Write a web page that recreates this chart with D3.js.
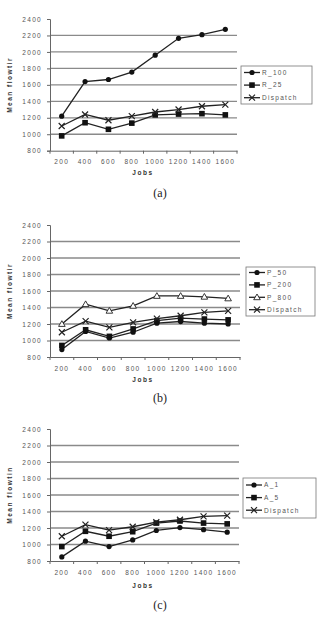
<!DOCTYPE html>
<html>
<head>
<meta charset="utf-8">
<script src="https://cdn.jsdelivr.net/npm/d3@7"></script>
<style>
  body { margin: 0; background: #fff; }
  text { font-family: "Liberation Sans", Arial, sans-serif; }
</style>
</head>
<body>
<div id="plot"></div>
<script>
// data
var jobs = [200, 400, 600, 800, 1000, 1200, 1400, 1600];
var yTicks = [800, 1000, 1200, 1400, 1600, 1800, 2000, 2200, 2400];

var r100 = [1220, 1640, 1665, 1755, 1960, 2165, 2210, 2275];
var r25 = [980, 1140, 1060, 1135, 1235, 1245, 1250, 1235];
var dispatchA = [1100, 1240, 1170, 1220, 1270, 1300, 1340, 1360];

var p50 = [890, 1110, 1030, 1100, 1210, 1230, 1210, 1200];
var p200 = [940, 1130, 1050, 1140, 1240, 1270, 1260, 1250];
var p800 = [1200, 1440, 1360, 1420, 1540, 1540, 1530, 1510];
var dispatchB = [1100, 1235, 1160, 1220, 1265, 1300, 1340, 1360];

var a1 = [850, 1040, 975, 1055, 1170, 1205, 1180, 1150];
var a5 = [975, 1160, 1100, 1155, 1260, 1285, 1260, 1250];
var dispatchC = [1100, 1240, 1175, 1215, 1270, 1300, 1340, 1350];

var svg = d3.select("div#plot")
  .append("svg")
    .attr("width", 322)
    .attr("height", 618);

function drawMarker(g, type, x, y) {
  if (type === "diamond") {
    g.append("circle").attr("cx", x).attr("cy", y).attr("r", 2.6).attr("fill", "#111");
  } else if (type === "square") {
    g.append("rect").attr("x", x - 2.8).attr("y", y - 2.8).attr("width", 5.6).attr("height", 5.6).attr("fill", "#111");
  } else if (type === "triangle") {
    g.append("path")
      .attr("d", "M" + x + "," + (y - 3.3) + "L" + (x + 3.3) + "," + (y + 2.4) + "L" + (x - 3.3) + "," + (y + 2.4) + "Z")
      .attr("fill", "#fff").attr("stroke", "#222").attr("stroke-width", 0.9);
  } else if (type === "cross") {
    g.append("path")
      .attr("d", "M" + (x - 3) + "," + (y - 3) + "L" + (x + 3) + "," + (y + 3) + "M" + (x + 3) + "," + (y - 3) + "L" + (x - 3) + "," + (y + 3))
      .attr("stroke", "#222").attr("stroke-width", 1.2).attr("fill", "none");
  }
}

function drawPanel(cfg) {
  var g = svg.append("g").attr("transform", "translate(0," + cfg.top + ")");
  var left = 50, right = cfg.right, plotTop = cfg.plotTop, plotBottom = cfg.plotBottom;

  var x = d3.scaleBand().domain(jobs).range([left, right]);
  var y = d3.scaleLinear().domain([800, 2400]).range([plotBottom, plotTop]);

  // gridlines
  g.selectAll(".grid")
    .data(yTicks.filter(d => d > 800 && d < 2400))
    .enter()
    .append("line")
      .attr("x1", left).attr("x2", right)
      .attr("y1", d => y(d)).attr("y2", d => y(d))
      .attr("stroke", "#8a8a8a")
      .attr("stroke-width", 1.3);

  // y axis
  var yAxis = g.append("g")
    .attr("transform", "translate(" + left + ",0)")
    .call(d3.axisLeft(y).tickValues(yTicks).tickFormat(d3.format("d")).tickSize(3).tickPadding(5));
  yAxis.select(".domain").attr("stroke", "#666");
  yAxis.selectAll(".tick line").attr("stroke", "#666");
  yAxis.selectAll("text")
    .attr("fill", "#555")
    .style("font-size", "6.5px")
    .style("letter-spacing", "1.3px");

  // x axis
  var xAxis = g.append("g")
    .attr("transform", "translate(0," + plotBottom + ")")
    .call(d3.axisBottom(x).tickSize(0).tickPadding(9));
  xAxis.select(".domain").attr("stroke", "#666");
  xAxis.selectAll("text")
    .attr("fill", "#555")
    .style("font-size", "6.5px")
    .style("letter-spacing", "1.3px");
  xAxis.selectAll(".sep")
    .data(d3.range(jobs.length + 1))
    .enter()
    .append("line")
      .attr("x1", i => left + i * x.step()).attr("x2", i => left + i * x.step())
      .attr("y1", 0).attr("y2", 3)
      .attr("stroke", "#666");

  // axis titles
  g.append("text")
    .attr("x", 143)
    .attr("y", cfg.jobsY)
    .attr("text-anchor", "middle")
    .style("font-size", "6.5px")
    .style("font-weight", "bold")
    .style("letter-spacing", "1.6px")
    .attr("fill", "#333")
    .text("Jobs");

  g.append("text")
    .attr("transform", "translate(12," + ((plotTop + plotBottom) / 2) + ") rotate(-90)")
    .attr("text-anchor", "middle")
    .style("font-size", "6.5px")
    .style("font-weight", "bold")
    .style("letter-spacing", "1.5px")
    .attr("fill", "#333")
    .text(cfg.yTitle);

  g.append("text")
    .attr("x", 160)
    .attr("y", cfg.captionY)
    .attr("text-anchor", "middle")
    .style("font-family", "'Liberation Serif', 'Times New Roman', serif")
    .style("font-size", "12px")
    .attr("fill", "#222")
    .text(cfg.caption);

  // series lines and markers
  var line = d3.line()
    .x((d, i) => x(jobs[i]) + x.bandwidth() / 2)
    .y(d => y(d));

  cfg.series.forEach(function(s) {
    g.append("path")
      .datum(s.values)
      .attr("d", line)
      .attr("fill", "none")
      .attr("stroke", "#222")
      .attr("stroke-width", 1.3);
    s.values.forEach(function(v, i) {
      drawMarker(g, s.marker, x(jobs[i]) + x.bandwidth() / 2, y(v));
    });
  });

  // legend
  var lg = cfg.legend;
  g.append("rect")
    .attr("x", lg.x).attr("y", lg.y)
    .attr("width", lg.w).attr("height", lg.h)
    .attr("fill", "#fff")
    .attr("stroke", "#777")
    .attr("stroke-width", 0.8);
  cfg.series.forEach(function(s, i) {
    var ry = lg.y + lg.pad + i * lg.row;
    g.append("line")
      .attr("x1", lg.x + 3).attr("x2", lg.x + 19)
      .attr("y1", ry).attr("y2", ry)
      .attr("stroke", "#222").attr("stroke-width", 1.3);
    drawMarker(g, s.marker, lg.x + 11, ry);
    g.append("text")
      .attr("x", lg.x + 21)
      .attr("y", ry + 2.3)
      .style("font-size", "6.5px")
      .style("letter-spacing", "1.3px")
      .attr("fill", "#555")
      .text(s.name);
  });
}

drawPanel({
  top: 0, right: 237, plotTop: 19, plotBottom: 150.7,
  jobsY: 175, captionY: 197, caption: "(a)", yTitle: "Mean flowtir",
  legend: {x: 241, y: 66, w: 71, h: 38, pad: 6.5, row: 12.6},
  series: [
    {name: "R_100", values: r100, marker: "diamond"},
    {name: "R_25", values: r25, marker: "square"},
    {name: "Dispatch", values: dispatchA, marker: "cross"}
  ]
});

drawPanel({
  top: 200, right: 240, plotTop: 25, plotBottom: 157,
  jobsY: 182, captionY: 202, caption: "(b)", yTitle: "Mean flowtir",
  legend: {x: 246, y: 67, w: 69, h: 49, pad: 5.5, row: 12.4},
  series: [
    {name: "P_50", values: p50, marker: "diamond"},
    {name: "P_200", values: p200, marker: "square"},
    {name: "P_800", values: p800, marker: "triangle"},
    {name: "Dispatch", values: dispatchB, marker: "cross"}
  ]
});

drawPanel({
  top: 405, right: 239, plotTop: 24, plotBottom: 156,
  jobsY: 183, captionY: 204, caption: "(c)", yTitle: "Mean flowtin",
  legend: {x: 243, y: 73, w: 73, h: 40, pad: 7, row: 12.6},
  series: [
    {name: "A_1", values: a1, marker: "diamond"},
    {name: "A_5", values: a5, marker: "square"},
    {name: "Dispatch", values: dispatchC, marker: "cross"}
  ]
});
</script>
</body>
</html>
